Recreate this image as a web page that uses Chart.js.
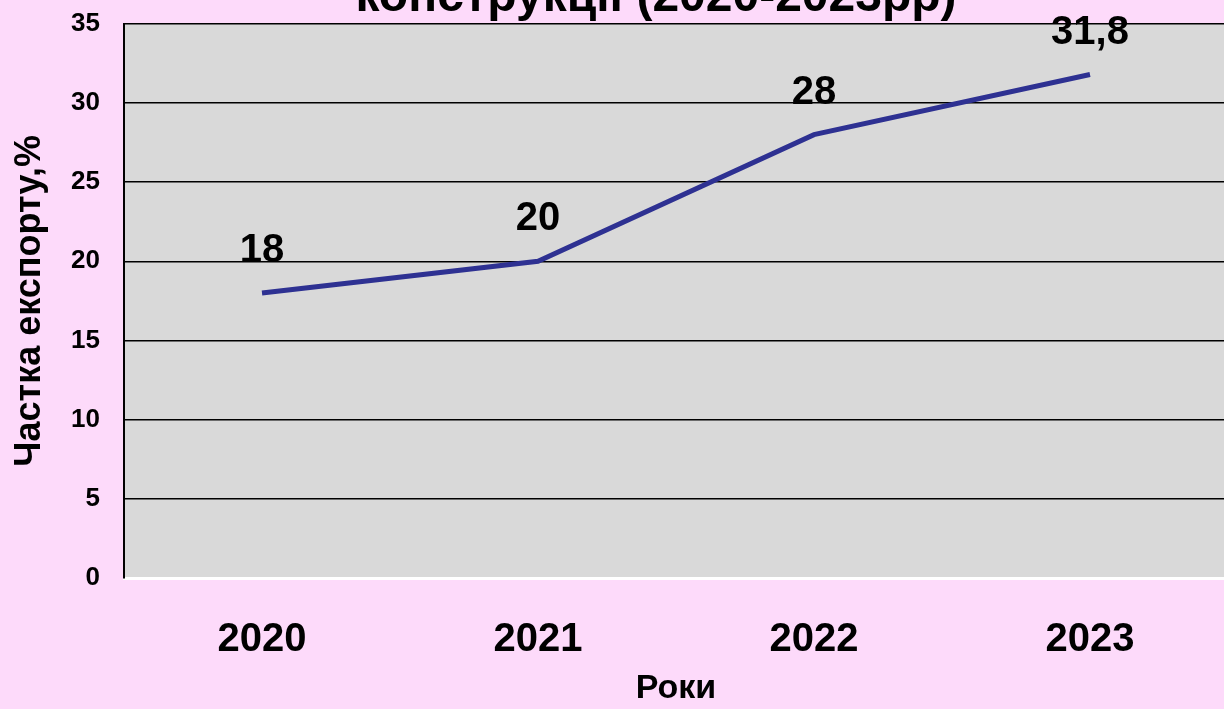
<!DOCTYPE html>
<html>
<head>
<meta charset="utf-8">
<script src="https://cdn.jsdelivr.net/npm/chart.js@4.4.0/dist/chart.umd.min.js"></script>
<style>
  html, body { margin: 0; padding: 0; overflow: hidden; background: #fddafa; }
  #wrap { position: relative; width: 1224px; height: 709px; overflow: hidden; }
  #chart { position: absolute; left: 0; top: -47px; }
</style>
</head>
<body>
<div id="wrap"><canvas id="chart" width="1232" height="756"></canvas></div>
<script>
// data
var years = ['2020', '2021', '2022', '2023'];
var shareExport = [18, 20, 28, 31.8];
var yTicks = [0, 5, 10, 15, 20, 25, 30, 35];

var fontName = '"Liberation Sans", Arial, sans-serif';

// gray plot background
var plotBg = {
	id: 'plotBg',
	beforeDraw: function (chart) {
		var a = chart.chartArea;
		var c = chart.ctx;
		c.save();
		c.fillStyle = '#d9d9d9';
		c.fillRect(a.left, a.top, a.right - a.left, a.bottom - a.top);
		c.restore();
	},
};

// value labels above each point
var valueLabels = {
	id: 'valueLabels',
	afterDatasetsDraw: function (chart) {
		var c = chart.ctx;
		var meta = chart.getDatasetMeta(0);
		c.save();
		c.font = 'bold 40px ' + fontName;
		c.fillStyle = '#000';
		c.textAlign = 'center';
		c.textBaseline = 'middle';
		meta.data.forEach(function (pt, i) {
			var txt = String(shareExport[i]).replace('.', ',');
			c.fillText(txt, pt.x, pt.y - 42);
		});
		c.restore();
	},
};

var ctx = document.getElementById('chart').getContext('2d');
var chart = new Chart(ctx, {
	type: 'line',
	data: {
		labels: years,
		datasets: [
			{
				data: shareExport,
				borderColor: '#2e3192',
				borderWidth: 5,
				pointRadius: 0,
				tension: 0,
				fill: false,
			},
		],
	},
	options: {
		responsive: false,
		animation: false,
		layout: { padding: { left: 0, right: 4, top: 0, bottom: 0 } },
		plugins: {
			legend: { display: false },
			tooltip: { enabled: false },
			title: {
				display: true,
				fullSize: false,
				text: 'конструкції (2020-2023рр)   ',
				color: '#000',
				font: { family: fontName, size: 48, weight: 'bold', lineHeight: 1.1 },
				padding: { top: 18, bottom: 0 },
			},
		},
		scales: {
			x: {
				offset: true,
				afterFit: function (s) { s.height = 131; },
				grid: { display: false, drawTicks: false },
				border: { display: true, color: '#ffffff', width: 3 },
				ticks: {
					color: '#000',
					padding: 38,
					font: { family: fontName, size: 40, weight: 'bold' },
				},
				title: {
					display: true,
					text: 'Роки',
					color: '#000',
					padding: { top: 4, bottom: 0 },
					font: { family: fontName, size: 34, weight: 'bold' },
				},
			},
			y: {
				min: 0,
				max: 35,
				afterFit: function (s) { s.width = 124; },
				afterBuildTicks: function (s) {
					s.ticks = yTicks.map(function (v) { return { value: v }; });
				},
				grid: {
					drawTicks: false,
					color: function (c) { return c.tick && c.tick.value === 0 ? '#ffffff' : '#000000'; },
					lineWidth: 1.5,
				},
				border: { display: true, color: '#000', width: 2 },
				ticks: {
					color: '#000',
					padding: 24,
					font: { family: fontName, size: 26, weight: 'bold' },
				},
				title: {
					display: true,
					text: 'Частка експорту,%',
					color: '#000',
					padding: { top: 8, bottom: 0 },
					font: { family: fontName, size: 36, weight: 'bold' },
				},
			},
		},
	},
	plugins: [plotBg, valueLabels],
});
</script>
</body>
</html>
